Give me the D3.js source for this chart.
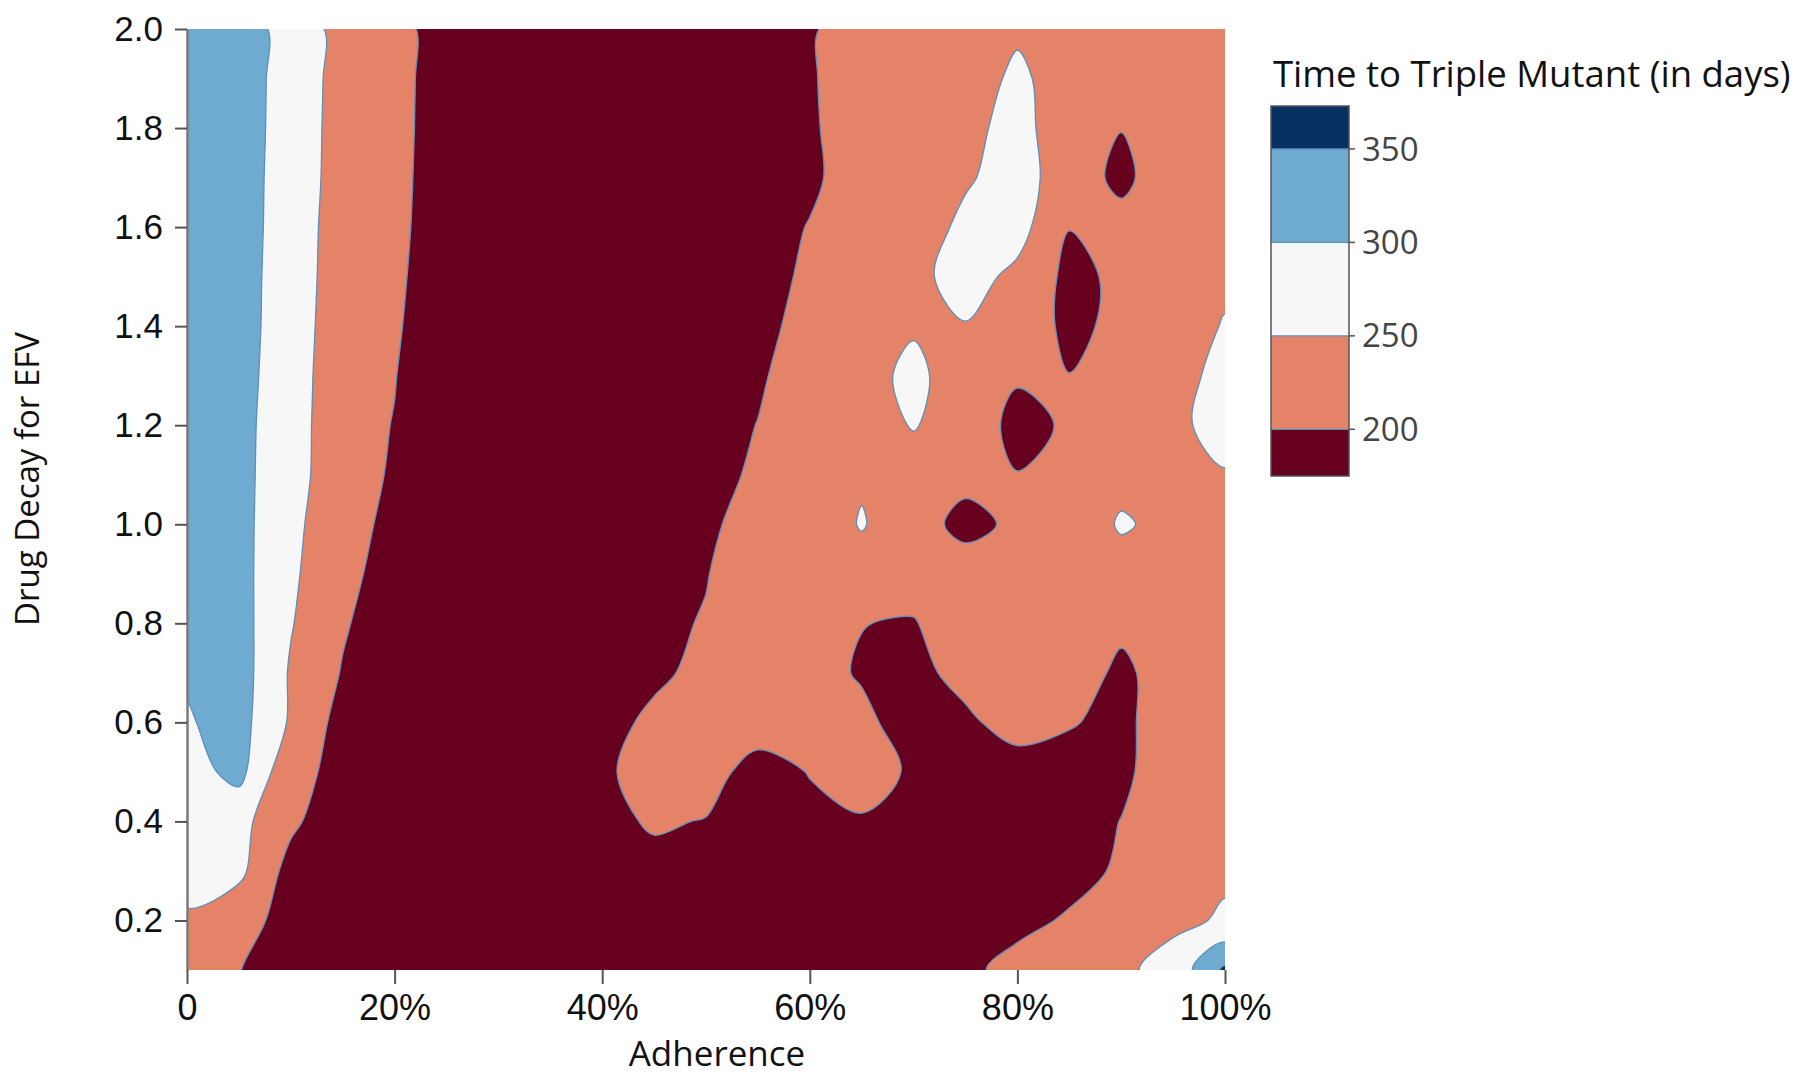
<!DOCTYPE html>
<html>
<head>
<meta charset="utf-8">
<script src="https://cdn.jsdelivr.net/npm/d3@7"></script>
<style>
  body { margin: 0; background: #fff; }
  svg { display: block; font-family: "Open Sans", sans-serif; }
</style>
</head>
<body>
<svg id="chart" width="1803" height="1079"></svg>
<script>
// grid columns (adherence) and rows (drug decay, listed top to bottom)
const adherence = [0, 0.05, 0.1, 0.15, 0.2, 0.25, 0.3, 0.35, 0.4, 0.45, 0.5,
                   0.55, 0.6, 0.65, 0.7, 0.75, 0.8, 0.85, 0.9, 0.95, 1];
const drugDecay = [2.0, 1.9, 1.8, 1.7, 1.6, 1.5, 1.4, 1.3, 1.2, 1.1, 1.0,
                   0.9, 0.8, 0.7, 0.6, 0.5, 0.4, 0.3, 0.2, 0.1];

// time to triple mutant (days), one row per drug decay value
const days = [
  [330, 320, 284, 231, 215, 179, 175, 172, 170, 172, 175, 180, 195, 223, 230, 236, 244, 230, 222, 225, 230], // 2.0
  [330, 319, 283, 230, 214, 179, 174, 171, 170, 171, 174, 180, 196, 222, 230, 230, 258, 230, 224, 225, 230], // 1.9
  [328, 318, 283, 228, 213, 179, 174, 171, 170, 171, 174, 180, 195, 220, 230, 234, 270, 214, 201, 222, 230], // 1.8
  [327, 317, 282, 227, 212, 178, 174, 171, 170, 171, 174, 182, 192, 222, 232, 244, 272, 222, 190, 227, 230], // 1.7
  [325, 316, 282, 222, 210, 178, 175, 172, 170, 172, 176, 182, 202, 215, 222, 262, 268, 201, 214, 225, 232], // 1.6
  [324, 315, 281, 220, 206, 181, 176, 172, 170, 172, 177, 185, 207, 222, 238, 268, 239, 188, 209, 225, 244], // 1.5
  [322, 314, 281, 215, 204, 178, 177, 173, 171, 173, 178, 190, 212, 225, 245, 248, 240, 185, 215, 235, 252], // 1.4
  [320, 313, 279, 211, 201, 178, 178, 174, 172, 174, 180, 194, 224, 232, 262, 223, 204, 201, 222, 232, 265], // 1.3
  [318, 312, 276, 211, 199, 182, 179, 175, 173, 175, 182, 201, 220, 228, 253, 225, 188, 205, 225, 239, 268], // 1.2
  [316, 311, 276, 208, 198, 183, 180, 176, 174, 177, 185, 207, 218, 245, 228, 214, 201, 215, 236, 235, 247], // 1.1
  [318, 315, 264, 212, 192, 187, 181, 177, 175, 180, 190, 222, 223, 253, 222, 185, 210, 217, 255, 237, 240], // 1.0
  [318, 316, 260, 204, 194, 185, 180, 178, 178, 185, 198, 228, 228, 232, 228, 225, 228, 228, 231, 232, 235], // 0.9
  [320, 319, 253, 205, 173, 183, 178, 176, 178, 190, 203, 222, 215, 201, 196, 240, 238, 228, 205, 232, 238], // 0.8
  [305, 322, 245, 197, 185, 182, 177, 175, 178, 192, 211, 222, 215, 196, 185, 217, 230, 213, 195, 212, 238], // 0.7
  [296, 318, 244, 182, 180, 181, 176, 175, 185, 209, 225, 225, 218, 210, 180, 190, 222, 204, 186, 234, 240], // 0.6
  [280, 315, 211, 190, 180, 180, 176, 175, 192, 220, 220, 180, 202, 225, 192, 180, 175, 178, 190, 228, 242], // 0.5
  [275, 265, 210, 165, 175, 178, 175, 174, 188, 205, 198, 185, 188, 195, 185, 178, 176, 180, 201, 225, 240], // 0.4
  [262, 262, 182, 170, 175, 176, 174, 173, 176, 187, 185, 180, 178, 178, 176, 175, 178, 185, 206, 228, 245], // 0.3
  [246, 215, 186, 172, 175, 176, 174, 173, 174, 176, 177, 178, 178, 178, 180, 183, 188, 205, 222, 242, 254], // 0.2
  [235, 201, 180, 172, 174, 175, 174, 173, 174, 175, 176, 178, 180, 182, 185, 190, 215, 230, 242, 265, 360]  // 0.1
];

const levels = [200, 250, 300, 350];
const bandColors = ["#67001f", "#e58368", "#f7f7f7", "#6fabd1", "#053061"];
const colorbarRange = [175, 373];

const xTicks = [0, 0.2, 0.4, 0.6, 0.8, 1];
const xTickLabels = ["0", "20%", "40%", "60%", "80%", "100%"];
const yTicks = [0.2, 0.4, 0.6, 0.8, 1.0, 1.2, 1.4, 1.6, 1.8, 2.0];

const svg = d3.select("#chart");
const plotBox = {left: 187, right: 1225, top: 29, bottom: 970};

const x = d3.scaleLinear().domain([0, 1]).range([plotBox.left, plotBox.right]);
const y = d3.scaleLinear().domain([0.1, 2.0]).range([plotBox.bottom, plotBox.top]);

// grid point i sits at contour coordinate i + 0.5
const nx = adherence.length, ny = drugDecay.length;
const gx = d3.scaleLinear().domain([0.5, nx - 0.5]).range([x(adherence[0]), x(adherence[nx - 1])]);
const gy = d3.scaleLinear().domain([0.5, ny - 0.5]).range([y(drugDecay[0]), y(drugDecay[ny - 1])]);

const contours = d3.contours().size([nx, ny]).thresholds(levels)(days.flat());

svg.append("clipPath").attr("id", "plot-clip")
  .append("rect")
  .attr("x", plotBox.left)
  .attr("y", plotBox.top)
  .attr("width", plotBox.right - plotBox.left)
  .attr("height", plotBox.bottom - plotBox.top);

const plot = svg.append("g").attr("clip-path", "url(#plot-clip)");

plot.append("rect")
  .attr("x", plotBox.left)
  .attr("y", plotBox.top)
  .attr("width", plotBox.right - plotBox.left)
  .attr("height", plotBox.bottom - plotBox.top)
  .attr("fill", bandColors[0]);

// smooth the marching-squares rings a bit, plotly style
const ringLine = d3.line().curve(d3.curveCatmullRomClosed.alpha(0.5));
function contourPath(geom) {
  return geom.coordinates.map(poly => poly.map(ring => {
    const pts = ring.slice(0, -1).map(([cx, cy]) => [gx(cx), gy(cy)]);
    return ringLine(pts);
  }).join("")).join("");
}

plot.selectAll("path.band")
  .data(contours)
  .join("path")
  .attr("class", "band")
  .attr("d", contourPath)
  .attr("fill", (d, i) => bandColors[i + 1])
  .attr("fill-rule", "evenodd")
  .attr("stroke", "#5d8fbb")
  .attr("stroke-width", 1.3);

// y axis
const yAxis = svg.append("g")
  .attr("transform", `translate(${plotBox.left},0)`)
  .call(d3.axisLeft(y).tickValues(yTicks).tickFormat(d3.format(".1f"))
    .tickSize(12).tickSizeOuter(0).tickPadding(12));
yAxis.select(".domain").attr("stroke", "#7a7a7a").attr("stroke-width", 2.5);
yAxis.selectAll(".tick line").attr("stroke", "#555").attr("stroke-width", 2);
yAxis.selectAll(".tick text").attr("fill", "#111").style("font-size", "35px");

// x axis
const xAxis = svg.append("g")
  .attr("transform", `translate(0,${plotBox.bottom})`)
  .call(d3.axisBottom(x).tickValues(xTicks).tickFormat((d, i) => xTickLabels[i])
    .tickSize(14).tickSizeOuter(0).tickPadding(10));
xAxis.select(".domain").remove();
xAxis.selectAll(".tick line").attr("stroke", "#555").attr("stroke-width", 2);
xAxis.selectAll(".tick text").attr("fill", "#111").style("font-size", "36px");

svg.append("text")
  .attr("x", 717)
  .attr("y", 1066)
  .attr("text-anchor", "middle")
  .style("font-size", "35px")
  .attr("fill", "#111")
  .text("Adherence");

svg.append("text")
  .attr("transform", "translate(39,479) rotate(-90)")
  .attr("text-anchor", "middle")
  .style("font-size", "33px")
  .attr("fill", "#111")
  .text("Drug Decay for EFV");

// colorbar
const cb = {left: 1271, width: 78, top: 106, bottom: 476};
const cbY = d3.scaleLinear().domain(colorbarRange).range([cb.bottom, cb.top]);
const edges = [colorbarRange[0], ...levels, colorbarRange[1]];

const cbar = svg.append("g");
cbar.selectAll("rect.band")
  .data(bandColors)
  .join("rect")
  .attr("class", "band")
  .attr("x", cb.left)
  .attr("width", cb.width)
  .attr("y", (d, i) => cbY(edges[i + 1]))
  .attr("height", (d, i) => cbY(edges[i]) - cbY(edges[i + 1]))
  .attr("fill", d => d);

cbar.selectAll("line.sep")
  .data(levels)
  .join("line")
  .attr("class", "sep")
  .attr("x1", cb.left).attr("x2", cb.left + cb.width)
  .attr("y1", d => cbY(d)).attr("y2", d => cbY(d))
  .attr("stroke", "#5d8fbb").attr("stroke-width", 1.3);

cbar.append("rect")
  .attr("x", cb.left).attr("y", cb.top)
  .attr("width", cb.width).attr("height", cb.bottom - cb.top)
  .attr("fill", "none").attr("stroke", "#555").attr("stroke-width", 1.5);

cbar.selectAll("line.tick")
  .data(levels)
  .join("line")
  .attr("class", "tick")
  .attr("x1", cb.left + cb.width).attr("x2", cb.left + cb.width + 6)
  .attr("y1", d => cbY(d)).attr("y2", d => cbY(d))
  .attr("stroke", "#555").attr("stroke-width", 1.5);

cbar.selectAll("text.lab")
  .data(levels)
  .join("text")
  .attr("class", "lab")
  .attr("x", cb.left + cb.width + 13)
  .attr("y", d => cbY(d))
  .attr("dy", "0.35em")
  .attr("fill", "#444")
  .style("font-size", "33px")
  .text(d => d);

svg.append("text")
  .attr("x", 1273)
  .attr("y", 87)
  .style("font-size", "36.5px")
  .attr("fill", "#111")
  .text("Time to Triple Mutant (in days)");
</script>
</body>
</html>
